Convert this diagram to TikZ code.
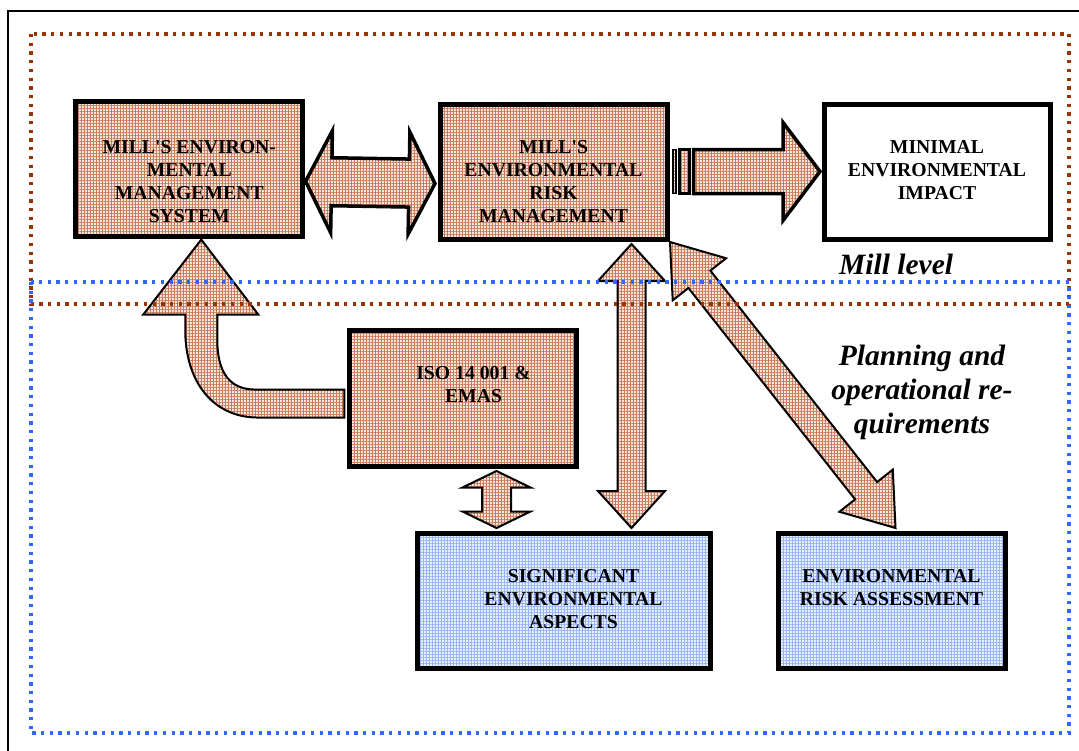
\documentclass[tikz,border=0pt]{standalone}
\usepackage{fontspec}
\setmainfont{Liberation Serif}[Ligatures=TeXOff]
\usetikzlibrary{calc,patterns.meta}

\definecolor{millbrown}{RGB}{153,51,0}
\definecolor{planblue}{RGB}{51,102,255}
\definecolor{brownbase}{RGB}{247,228,220}
\definecolor{brownline}{RGB}{200,124,92}
\definecolor{bluebase}{RGB}{232,240,255}
\definecolor{blueline}{RGB}{150,180,246}

\pgfdeclarelayer{back}
\pgfsetlayers{back,main}

\tikzset{
  brownfill/.style={preaction={fill=brownbase},
    pattern={Hatch[angle=0,distance=3pt,line width=0.55pt]}, pattern color=brownline},
  bluefill/.style={preaction={fill=bluebase},
    pattern={Hatch[angle=0,distance=3pt,line width=0.55pt]}, pattern color=blueline},
  unitbox/.style={draw, line width=5pt, inner sep=0pt, anchor=north west},
  boxtext/.style={font=\bfseries\fontsize{19.7}{23}\selectfont, align=center,
    inner sep=0pt, anchor=north},
  levelnote/.style={font=\bfseries\itshape\fontsize{29.5}{34}\selectfont, inner sep=0pt},
  arrowbody/.style={draw, line width=2pt, line join=miter, brownfill},
  dotframe/.style={line width=3.3pt, dash pattern=on 3.3pt off 5.4pt},
}

% double-headed block arrow: tips #2 and #3, shaft half width #4,
% head half width #5, head length #6
\newcommand{\twinarrow}[6][]{%
  \coordinate (tipA) at (#2);
  \coordinate (tipB) at (#3);
  \coordinate (baseA) at ($(tipA)!#6!(tipB)$);
  \coordinate (baseB) at ($(tipB)!#6!(tipA)$);
  \draw[arrowbody,#1] (tipA) -- ($(baseA)!#5!90:(tipB)$) -- ($(baseA)!#4!90:(tipB)$)
    -- ($(baseB)!#4!-90:(tipA)$) -- ($(baseB)!#5!-90:(tipA)$) -- (tipB)
    -- ($(baseB)!#5!90:(tipA)$) -- ($(baseB)!#4!90:(tipA)$)
    -- ($(baseA)!#4!-90:(tipB)$) -- ($(baseA)!#5!-90:(tipB)$) -- cycle;
}

% single-headed block arrow: tail #2, tip #3, shaft half width #4,
% head half width #5, head length #6
\newcommand{\onearrow}[6][]{%
  \coordinate (tailP) at (#2);
  \coordinate (tipP) at (#3);
  \coordinate (baseP) at ($(tipP)!#6!(tailP)$);
  \draw[arrowbody,#1] ($(tailP)!#4!90:(tipP)$) -- ($(baseP)!#4!-90:(tailP)$)
    -- ($(baseP)!#5!-90:(tailP)$) -- (tipP) -- ($(baseP)!#5!90:(tailP)$)
    -- ($(baseP)!#4!90:(tailP)$) -- ($(tailP)!#4!-90:(tipP)$) -- cycle;
}

\begin{document}
\begin{tikzpicture}[x=1pt,y=-1pt]
\useasboundingbox (0,0) rectangle (1079,750);

% page frame
\draw[line width=2pt] (7.5,10.5) rectangle (1100,780);

% boxes
\node[unitbox, brownfill, minimum width=227pt, minimum height=135pt] (box1) at (75.5,101.5) {};
\node[unitbox, brownfill, minimum width=227pt, minimum height=135pt] (box2) at (437.5,101.5) {};
\node[unitbox, fill=white, minimum width=226pt, minimum height=135pt] (box3) at (821.5,101.5) {};
\node[unitbox, brownfill, minimum width=227pt, minimum height=136pt] (iso) at (346.5,327.5) {};
\node[unitbox, bluefill, minimum width=293pt, minimum height=135pt] (sig) at (414.5,530.5) {};
\node[unitbox, bluefill, minimum width=227pt, minimum height=135pt] (era) at (775.5,530.5) {};

% box texts
\node[boxtext] (t1) at ($(box1.north)+(0,38.5)$) {MILL'S ENVIRON-\\MENTAL\\MANAGEMENT\\SYSTEM};
\node[boxtext] (t2) at ($(box2.north)+(0,38.5)$) {MILL'S\\ENVIRONMENTAL\\RISK\\MANAGEMENT};
\node[boxtext] (t3) at ($(box3.north)+(0,38.5)$) {MINIMAL\\ENVIRONMENTAL\\IMPACT};
\node[boxtext] (t4) at ($(iso.north)+(11,38.5)$) {ISO 14 001 \&\\EMAS};
\node[boxtext] (t5) at ($(sig.north)+(10,38.5)$) {SIGNIFICANT\\ENVIRONMENTAL\\ASPECTS};
\node[boxtext] (t6) at ($(era.north)+(0,38.5)$) {ENVIRONMENTAL\\RISK ASSESSMENT};

% block arrows, kept behind the boxes
\begin{pgfonlayer}{back}
  \twinarrow[line width=3.5pt]{$(box1.east)+(2.5,12)$}{$(box2.west)+(-2.5,12)$}{24pt}{51pt}{26pt}

  % striped arrow towards the impact box
  \draw[arrowbody, line width=1.5pt] ($(box2.east)+(3.5,-22)$) rectangle ($(box2.east)+(6.5,22)$);
  \draw[arrowbody, line width=2.5pt] ($(box2.east)+(10,-22)$) rectangle ($(box2.east)+(20,22)$);
  \onearrow[line width=3.5pt]{$(box2.east)+(24,0)$}{$(box3.west)+(-1.5,0)$}{22pt}{49pt}{37pt}

  % bent arrow from the standards box up to the management system
  \begin{scope}[shift={($(box1.south)+(12,2.5)$)}]
    \draw[arrowbody] (0,0) -- (57,75) -- (16,75) -- (16,100)
      .. controls (16,135) and (30,150) .. (54,150) -- (143,150) -- (143,178) -- (57,178)
      .. controls (10,178) and (-16,140) .. (-16,91) -- (-16,75) -- (-58,75) -- cycle;
  \end{scope}

  \twinarrow{$(iso.south)+(34,2.5)$}{$(sig.north)+(-67,-2.5)$}{14.5pt}{34pt}{16.5pt}
  \twinarrow{$(box2.south)+(78,2.5)$}{$(sig.north)+(68,-2.5)$}{14pt}{33.5pt}{37pt}
  \twinarrow{$(box2.south east)+(0.5,0.5)$}{$(era.north)+(4,-2.5)$}{14pt}{34pt}{47.5pt}
\end{pgfonlayer}

% level frames
\draw[dotframe, millbrown] (31,34) rectangle (1069,304);
\draw[dotframe, planblue] (31,282) rectangle (1069,733);

% level labels
\node[levelnote, anchor=base west] (mill) at (839,274) {Mill level};
\node[levelnote, anchor=north, align=center] (plan) at (922,345) {Planning and\\operational re-\\quirements};
\end{tikzpicture}
\end{document}
